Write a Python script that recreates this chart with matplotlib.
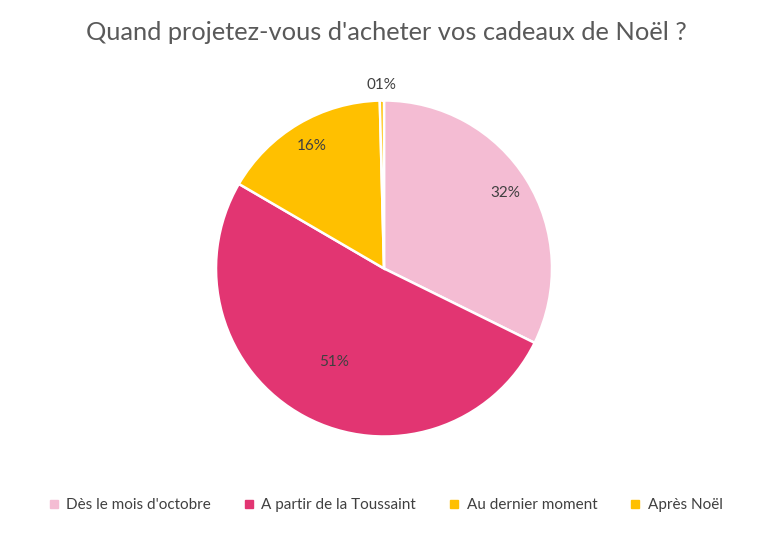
import matplotlib
matplotlib.use("Agg")
import matplotlib.pyplot as plt
from matplotlib.lines import Line2D
import numpy as np

plt.rcParams['font.family'] = ['Lato', 'DejaVu Sans']

# data
categories = ["Dès le mois d'octobre", "A partir de la Toussaint",
              "Au dernier moment", "Après Noël"]
values = [32.3, 51.1, 16.2, 0.4]
pct_labels = ["32%", "51%", "16%", "01%"]
colors = ["#F4BCD3", "#E23572", "#FFC000", "#FFC000"]
label_dist = [0.85, 0.63, 0.85, 1.09]

W, H = 772, 533
fig = plt.figure(figsize=(W / 100, H / 100), dpi=100)

# pie axes placed in pixels: centre (384, 268.5), radius 170
r_px = 170
half = 210
cx, cy = 384, H - 268.5
ax = fig.add_axes([(cx - half) / W, (cy - half) / H, 2 * half / W, 2 * half / H])
lim = half / r_px
ax.set_xlim(-lim, lim)
ax.set_ylim(-lim, lim)
ax.set_aspect('equal')
ax.axis('off')

wedges, _ = ax.pie(values, colors=colors, startangle=90, counterclock=False,
                   radius=1, wedgeprops=dict(edgecolor='white', linewidth=1.8))

for w, lab, d in zip(wedges, pct_labels, label_dist):
    ang = np.deg2rad((w.theta1 + w.theta2) / 2)
    ax.text(d * np.cos(ang), d * np.sin(ang), lab, ha='center', va='center',
            fontsize=11, color='#404040')

fig.text(0.5, 1 - 33 / H, "Quand projetez-vous d'acheter vos cadeaux de Noël ?",
         ha='center', va='center', fontsize=18.3, color='#595959')

handles = [Line2D([], [], marker='s', linestyle='none', markersize=6,
                  markerfacecolor=c, markeredgecolor=c) for c in colors]
fig.legend(handles, categories, loc='center', bbox_to_anchor=(0.5, 1 - 505 / H),
           ncol=4, frameon=False, fontsize=11, handlelength=0.6,
           handletextpad=0.5, columnspacing=2.2, labelcolor='#404040')

fig.savefig("out.png", dpi=100)
